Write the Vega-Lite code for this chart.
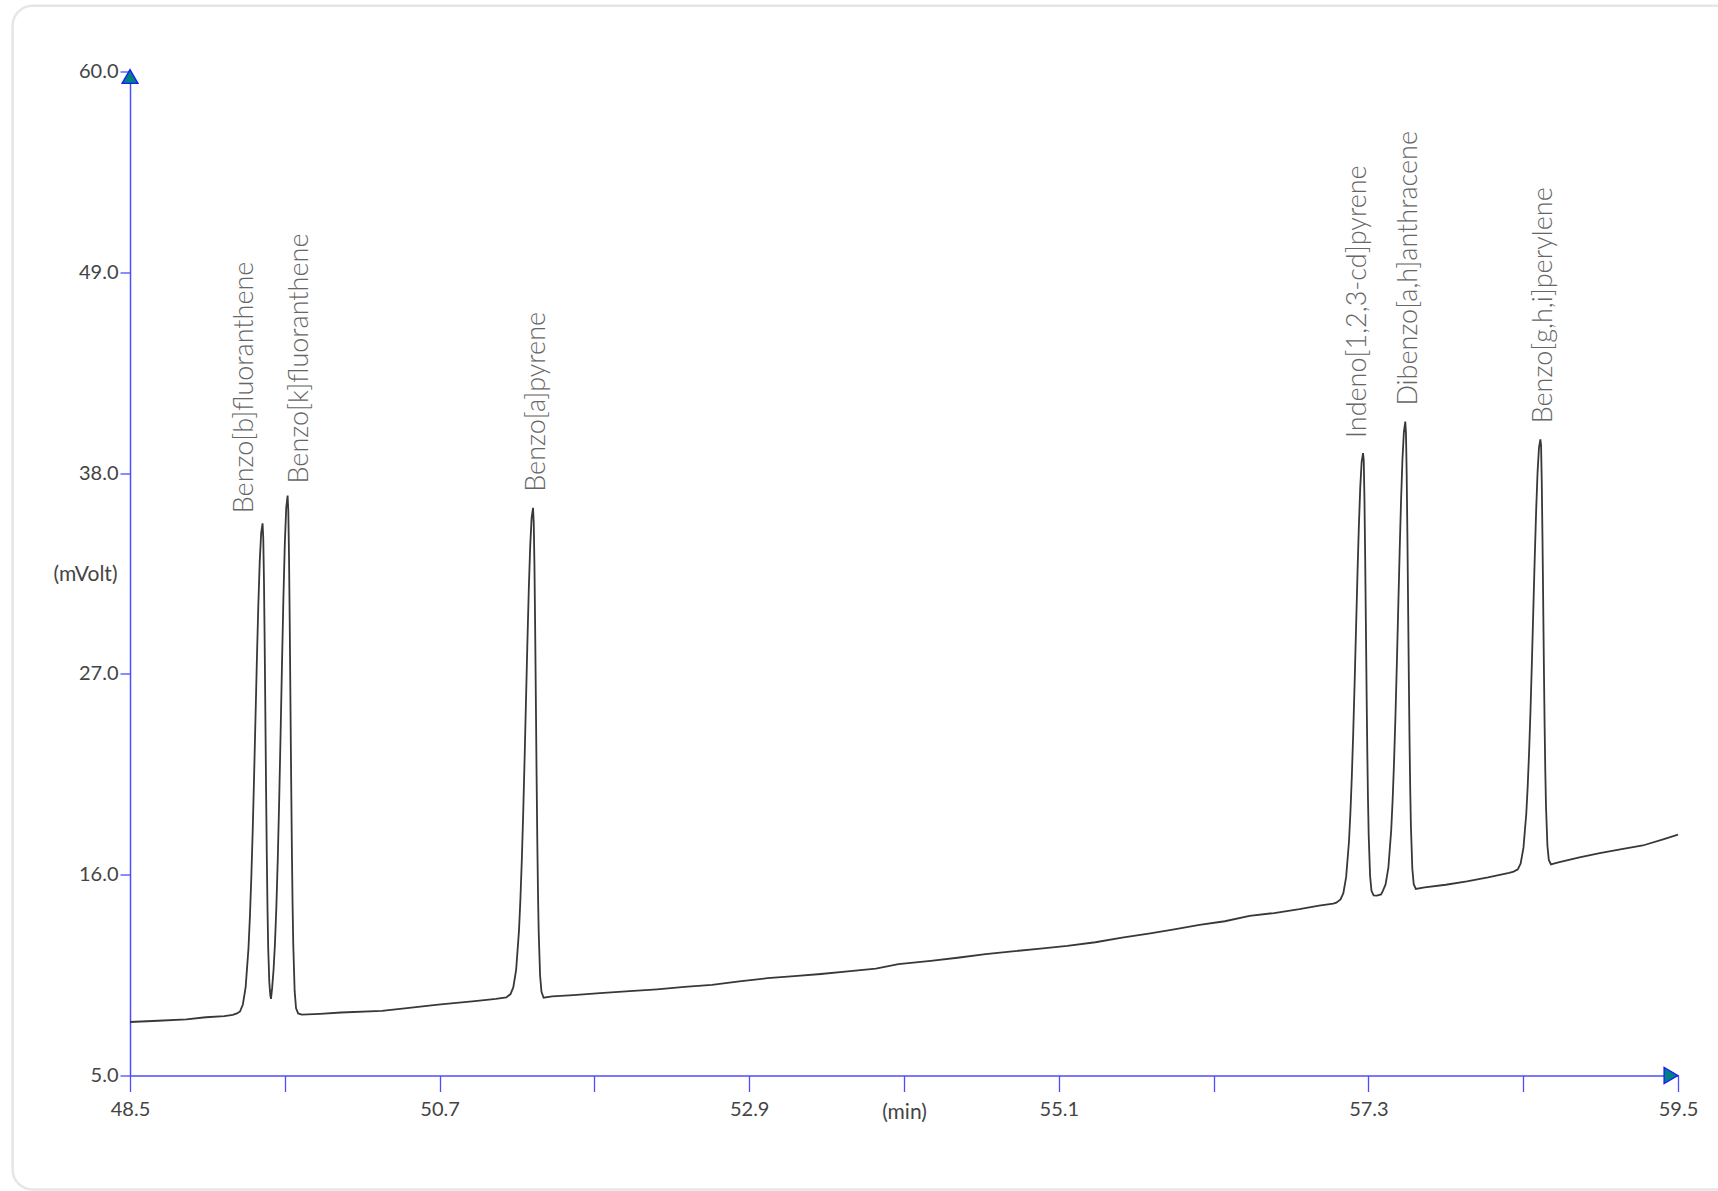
{
  "$schema": "https://vega.github.io/schema/vega-lite/v6.json",
  "width": 1548,
  "height": 1004,
  "autosize": {"type": "none"},
  "padding": {"left": 130, "top": 71.5, "right": 40, "bottom": 115.5},
  "background": "white",
  "view": {"stroke": null},
  "config": {"font": "Lato"},
  "datasets": {
    "trace": [
      {"t": 48.5, "v": 7.93}, {"t": 48.7, "v": 8.0}, {"t": 48.9, "v": 8.08}, {"t": 49.04, "v": 8.19}, {"t": 49.17, "v": 8.25}, {"t": 49.23, "v": 8.32}, {"t": 49.26, "v": 8.4},
      {"t": 49.282, "v": 8.51}, {"t": 49.302, "v": 8.89}, {"t": 49.322, "v": 9.86}, {"t": 49.342, "v": 11.98}, {"t": 49.352, "v": 13.68}, {"t": 49.362, "v": 15.83}, {"t": 49.372, "v": 18.44}, {"t": 49.382, "v": 21.45}, {"t": 49.392, "v": 24.68}, {"t": 49.402, "v": 27.88}, {"t": 49.412, "v": 30.81}, {"t": 49.422, "v": 33.18}, {"t": 49.432, "v": 34.71}, {"t": 49.442, "v": 35.25},
      {"t": 49.447, "v": 34.42}, {"t": 49.452, "v": 32.08}, {"t": 49.457, "v": 28.66}, {"t": 49.462, "v": 24.68}, {"t": 49.467, "v": 20.67}, {"t": 49.472, "v": 17.09}, {"t": 49.477, "v": 14.16}, {"t": 49.482, "v": 11.98}, {"t": 49.49, "v": 10.1}, {"t": 49.497, "v": 9.4}, {"t": 49.502, "v": 9.2},
      {"t": 49.51, "v": 9.8}, {"t": 49.52, "v": 10.78}, {"t": 49.53, "v": 12.21}, {"t": 49.54, "v": 14.22}, {"t": 49.55, "v": 16.84}, {"t": 49.56, "v": 20.04}, {"t": 49.57, "v": 23.68}, {"t": 49.58, "v": 27.51}, {"t": 49.59, "v": 31.12}, {"t": 49.6, "v": 34.1}, {"t": 49.61, "v": 36.09}, {"t": 49.62, "v": 36.77},
      {"t": 49.625, "v": 35.89}, {"t": 49.63, "v": 33.42}, {"t": 49.635, "v": 29.81}, {"t": 49.64, "v": 25.61}, {"t": 49.645, "v": 21.37}, {"t": 49.65, "v": 17.6}, {"t": 49.655, "v": 14.5}, {"t": 49.66, "v": 12.2}, {"t": 49.67, "v": 9.62}, {"t": 49.68, "v": 8.68}, {"t": 49.695, "v": 8.4},
      {"t": 49.72, "v": 8.34}, {"t": 49.85, "v": 8.38}, {"t": 50.0, "v": 8.45}, {"t": 50.29, "v": 8.54}, {"t": 50.5, "v": 8.72}, {"t": 50.69, "v": 8.88}, {"t": 50.95, "v": 9.08}, {"t": 51.1, "v": 9.2}, {"t": 51.174, "v": 9.28},
      {"t": 51.204, "v": 9.46}, {"t": 51.224, "v": 9.84}, {"t": 51.244, "v": 10.8}, {"t": 51.264, "v": 12.92}, {"t": 51.274, "v": 14.61}, {"t": 51.284, "v": 16.75}, {"t": 51.294, "v": 19.35}, {"t": 51.304, "v": 22.35}, {"t": 51.314, "v": 25.57}, {"t": 51.324, "v": 28.76}, {"t": 51.334, "v": 31.68}, {"t": 51.344, "v": 34.04}, {"t": 51.354, "v": 35.56}, {"t": 51.364, "v": 36.1},
      {"t": 51.369, "v": 35.27}, {"t": 51.374, "v": 32.94}, {"t": 51.379, "v": 29.53}, {"t": 51.384, "v": 25.57}, {"t": 51.389, "v": 21.57}, {"t": 51.394, "v": 18.01}, {"t": 51.399, "v": 15.09}, {"t": 51.404, "v": 12.92}, {"t": 51.414, "v": 10.48}, {"t": 51.424, "v": 9.59}, {"t": 51.439, "v": 9.26},
      {"t": 51.5, "v": 9.33}, {"t": 51.65, "v": 9.4}, {"t": 51.84, "v": 9.51}, {"t": 52.05, "v": 9.62}, {"t": 52.245, "v": 9.72}, {"t": 52.44, "v": 9.85}, {"t": 52.635, "v": 9.96}, {"t": 52.83, "v": 10.16}, {"t": 53.03, "v": 10.33}, {"t": 53.22, "v": 10.44}, {"t": 53.41, "v": 10.56}, {"t": 53.6, "v": 10.7}, {"t": 53.8, "v": 10.86}, {"t": 53.96, "v": 11.1}, {"t": 54.19, "v": 11.28}, {"t": 54.38, "v": 11.45}, {"t": 54.58, "v": 11.65}, {"t": 54.77, "v": 11.8}, {"t": 54.97, "v": 11.95}, {"t": 55.16, "v": 12.1}, {"t": 55.36, "v": 12.3}, {"t": 55.55, "v": 12.55}, {"t": 55.75, "v": 12.79}, {"t": 55.92, "v": 13.0}, {"t": 56.1, "v": 13.25}, {"t": 56.28, "v": 13.45}, {"t": 56.456, "v": 13.75}, {"t": 56.63, "v": 13.9}, {"t": 56.81, "v": 14.11}, {"t": 56.95, "v": 14.3}, {"t": 57.05, "v": 14.42}, {"t": 57.072, "v": 14.47},
      {"t": 57.102, "v": 14.65}, {"t": 57.122, "v": 14.99}, {"t": 57.142, "v": 15.88}, {"t": 57.162, "v": 17.82}, {"t": 57.172, "v": 19.37}, {"t": 57.182, "v": 21.34}, {"t": 57.192, "v": 23.73}, {"t": 57.202, "v": 26.48}, {"t": 57.212, "v": 29.43}, {"t": 57.222, "v": 32.36}, {"t": 57.232, "v": 35.04}, {"t": 57.242, "v": 37.21}, {"t": 57.252, "v": 38.61}, {"t": 57.262, "v": 39.1},
      {"t": 57.267, "v": 38.69}, {"t": 57.272, "v": 36.55}, {"t": 57.277, "v": 33.42}, {"t": 57.282, "v": 29.78}, {"t": 57.287, "v": 26.12}, {"t": 57.292, "v": 22.85}, {"t": 57.297, "v": 20.16}, {"t": 57.302, "v": 18.17}, {"t": 57.312, "v": 15.93}, {"t": 57.322, "v": 15.12}, {"t": 57.337, "v": 14.87}, {"t": 57.36, "v": 14.85}, {"t": 57.39, "v": 14.92},
      {"t": 57.402, "v": 15.1}, {"t": 57.422, "v": 15.47}, {"t": 57.442, "v": 16.39}, {"t": 57.462, "v": 18.43}, {"t": 57.472, "v": 20.06}, {"t": 57.482, "v": 22.12}, {"t": 57.492, "v": 24.63}, {"t": 57.502, "v": 27.51}, {"t": 57.512, "v": 30.61}, {"t": 57.522, "v": 33.68}, {"t": 57.532, "v": 36.49}, {"t": 57.542, "v": 38.76}, {"t": 57.552, "v": 40.23}, {"t": 57.562, "v": 40.82},
      {"t": 57.567, "v": 40.2}, {"t": 57.572, "v": 37.96}, {"t": 57.577, "v": 34.68}, {"t": 57.582, "v": 30.86}, {"t": 57.587, "v": 27.02}, {"t": 57.592, "v": 23.59}, {"t": 57.597, "v": 20.77}, {"t": 57.602, "v": 18.68}, {"t": 57.612, "v": 16.34}, {"t": 57.622, "v": 15.48}, {"t": 57.637, "v": 15.22},
      {"t": 57.7, "v": 15.3}, {"t": 57.85, "v": 15.45}, {"t": 58.0, "v": 15.63}, {"t": 58.15, "v": 15.85}, {"t": 58.3, "v": 16.1}, {"t": 58.332, "v": 16.17},
      {"t": 58.362, "v": 16.29}, {"t": 58.382, "v": 16.62}, {"t": 58.402, "v": 17.48}, {"t": 58.422, "v": 19.35}, {"t": 58.432, "v": 20.84}, {"t": 58.442, "v": 22.74}, {"t": 58.452, "v": 25.04}, {"t": 58.462, "v": 27.69}, {"t": 58.472, "v": 30.54}, {"t": 58.482, "v": 33.36}, {"t": 58.492, "v": 35.94}, {"t": 58.502, "v": 38.03}, {"t": 58.512, "v": 39.38}, {"t": 58.522, "v": 39.85},
      {"t": 58.527, "v": 39.52}, {"t": 58.532, "v": 37.45}, {"t": 58.537, "v": 34.44}, {"t": 58.542, "v": 30.94}, {"t": 58.547, "v": 27.4}, {"t": 58.552, "v": 24.25}, {"t": 58.557, "v": 21.67}, {"t": 58.562, "v": 19.75}, {"t": 58.572, "v": 17.59}, {"t": 58.582, "v": 16.81}, {"t": 58.597, "v": 16.56},
      {"t": 58.65, "v": 16.68}, {"t": 58.8, "v": 16.95}, {"t": 58.944, "v": 17.18}, {"t": 59.1, "v": 17.4}, {"t": 59.25, "v": 17.6}, {"t": 59.4, "v": 17.95}, {"t": 59.5, "v": 18.2}
    ],
    "peaks": [
      {"name": "Benzo[b]fluoranthene", "t": 49.442, "v": 35.25},
      {"name": "Benzo[k]fluoranthene", "t": 49.62, "v": 36.77},
      {"name": "Benzo[a]pyrene", "t": 51.364, "v": 36.1},
      {"name": "Indeno[1,2,3-cd]pyrene", "t": 57.262, "v": 39.1},
      {"name": "Dibenzo[a,h]anthracene", "t": 57.562, "v": 40.82},
      {"name": "Benzo[g,h,i]perylene", "t": 58.522, "v": 39.85}
    ],
    "one": [{}]
  },
  "layer": [
    {
      "data": {"name": "one"},
      "mark": {"type": "rect", "fill": "transparent", "stroke": "#e6e6e6", "strokeWidth": 2.5, "cornerRadius": 20},
      "encoding": {
        "x": {"datum": 47.666, "type": "quantitative", "scale": {"domain": [48.5, 59.5], "nice": false, "zero": false}},
        "x2": {"datum": 61.2},
        "y": {"datum": 63.6, "type": "quantitative", "scale": {"domain": [5, 60], "nice": false, "zero": false}},
        "y2": {"datum": -1.25}
      }
    },
    {
      "data": {"name": "trace"},
      "mark": {"type": "line", "color": "#383838", "strokeWidth": 1.8, "interpolate": "linear"},
      "encoding": {
        "x": {
          "field": "t", "type": "quantitative", "title": "(min)",
          "scale": {"domain": [48.5, 59.5], "nice": false, "zero": false},
          "axis": {
            "values": [48.5, 49.6, 50.7, 51.8, 52.9, 54.0, 55.1, 56.2, 57.3, 58.4, 59.5],
            "labelExpr": "round(datum.index*10) % 2 == 0 ? format(datum.value, '.1f') : ''",
            "grid": false,
            "domainColor": "#4d4dff", "domainWidth": 1.5,
            "tickColor": "#4d4dff", "tickWidth": 1.3, "tickSize": 16,
            "labelFont": "Lato", "labelFontSize": 20, "labelFontWeight": 400, "labelColor": "#444444", "labelPadding": 8,
            "labelFlush": false, "labelOverlap": false,
            "titleFont": "Lato", "titleFontSize": 21, "titleFontWeight": 400, "titleColor": "#444444",
            "titleBaseline": "alphabetic", "titleY": 43
          }
        },
        "y": {
          "field": "v", "type": "quantitative", "title": "(mVolt)",
          "scale": {"domain": [5, 60], "nice": false, "zero": false},
          "axis": {
            "values": [5, 16, 27, 38, 49, 60],
            "format": ".1f",
            "grid": false,
            "domainColor": "#4d4dff", "domainWidth": 1.5,
            "tickColor": "#4d4dff", "tickWidth": 1.3, "tickSize": 10,
            "labelFont": "Lato", "labelFontSize": 20, "labelFontWeight": 400, "labelColor": "#444444", "labelPadding": 2,
            "labelFlush": false, "labelOverlap": false,
            "titleFont": "Lato", "titleFontSize": 21, "titleFontWeight": 400, "titleColor": "#444444",
            "titleAngle": 0, "titleAlign": "center", "titleBaseline": "middle", "titleX": -45, "titleY": 503
          }
        }
      }
    },
    {
      "data": {"name": "peaks"},
      "transform": [{"filter": {"field": "name", "oneOf": ["Benzo[a]pyrene", "Dibenzo[a,h]anthracene", "Benzo[g,h,i]perylene"]}}],
      "mark": {"type": "text", "angle": 270, "align": "left", "baseline": "alphabetic", "dx": 16, "dy": 12, "font": "Lato", "fontSize": 27, "fontWeight": 300, "color": "#666666"},
      "encoding": {
        "x": {"field": "t", "type": "quantitative", "title": "(min)"},
        "y": {"field": "v", "type": "quantitative", "title": "(mVolt)"},
        "text": {"field": "name"}
      }
    },
    {
      "data": {"name": "peaks"},
      "transform": [{"filter": {"field": "name", "equal": "Benzo[b]fluoranthene"}}],
      "mark": {"type": "text", "angle": 270, "align": "left", "baseline": "alphabetic", "dx": 10, "dy": -10, "font": "Lato", "fontSize": 27, "fontWeight": 300, "color": "#666666"},
      "encoding": {
        "x": {"field": "t", "type": "quantitative", "title": "(min)"},
        "y": {"field": "v", "type": "quantitative", "title": "(mVolt)"},
        "text": {"field": "name"}
      }
    },
    {
      "data": {"name": "peaks"},
      "transform": [{"filter": {"field": "name", "equal": "Benzo[k]fluoranthene"}}],
      "mark": {"type": "text", "angle": 270, "align": "left", "baseline": "alphabetic", "dx": 12, "dy": 20, "font": "Lato", "fontSize": 27, "fontWeight": 300, "color": "#666666"},
      "encoding": {
        "x": {"field": "t", "type": "quantitative", "title": "(min)"},
        "y": {"field": "v", "type": "quantitative", "title": "(mVolt)"},
        "text": {"field": "name"}
      }
    },
    {
      "data": {"name": "peaks"},
      "transform": [{"filter": {"field": "name", "equal": "Indeno[1,2,3-cd]pyrene"}}],
      "mark": {"type": "text", "angle": 270, "align": "left", "baseline": "alphabetic", "dx": 15, "dy": 3, "font": "Lato", "fontSize": 27, "fontWeight": 300, "color": "#666666"},
      "encoding": {
        "x": {"field": "t", "type": "quantitative", "title": "(min)"},
        "y": {"field": "v", "type": "quantitative", "title": "(mVolt)"},
        "text": {"field": "name"}
      }
    },
    {
      "data": {"name": "one"},
      "mark": {"type": "point", "shape": "triangle-up", "size": 256, "filled": true, "fill": "#008080", "stroke": "#1a1aff", "strokeWidth": 1.3, "opacity": 1, "yOffset": 5},
      "encoding": {"x": {"datum": 48.5, "type": "quantitative"}, "y": {"datum": 60, "type": "quantitative"}}
    },
    {
      "data": {"name": "one"},
      "mark": {"type": "point", "shape": "triangle-right", "size": 256, "filled": true, "fill": "#008080", "stroke": "#1a1aff", "strokeWidth": 1.3, "opacity": 1, "xOffset": -7},
      "encoding": {"x": {"datum": 59.5, "type": "quantitative"}, "y": {"datum": 5, "type": "quantitative"}}
    }
  ]
}
